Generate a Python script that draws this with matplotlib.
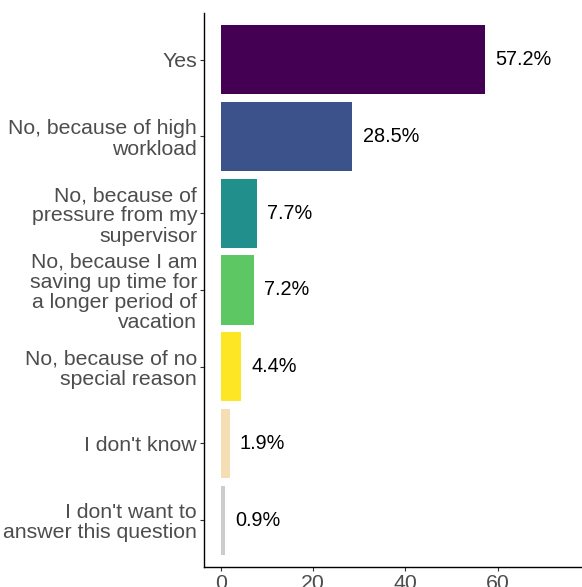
import matplotlib
matplotlib.use("Agg")
import matplotlib.pyplot as plt

plt.rcParams['font.family'] = ['Liberation Sans', 'DejaVu Sans']

# answers, top to bottom
answers = [
    "Yes",
    "No, because of high\nworkload",
    "No, because of\npressure from my\nsupervisor",
    "No, because I am\nsaving up time for\na longer period of\nvacation",
    "No, because of no\nspecial reason",
    "I don't know",
    "I don't want to\nanswer this question",
]
shares = [57.2, 28.5, 7.7, 7.2, 4.4, 1.9, 0.9]
bar_colors = ["#440154", "#3B528B", "#21908C", "#5DC863", "#FDE725", "#F5DEB3", "#CCCCCC"]
x_ticks = [0, 20, 40, 60]

fig = plt.figure(figsize=(5.82, 5.87), dpi=100)
ax = fig.add_axes([0.3505, 0.034, 0.6495, 0.944])

pos = list(range(len(answers)))[::-1]
ax.barh(pos, shares, height=0.9, color=bar_colors)
for p, v in zip(pos, shares):
    ax.text(v + 2.2, p, f"{v}%", ha='left', va='center', fontsize=14.3, color='black')

ax.set_yticks(pos)
ax.set_yticklabels(answers, fontsize=15.3, color='#4D4D4D', linespacing=1.08)
ax.set_xticks(x_ticks)
ax.set_xticklabels([str(t) for t in x_ticks], fontsize=15.3, color='#4D4D4D')
ax.set_xlim(-3.7, 78.3)
ax.set_ylim(-0.61, 6.61)

for s in ['top', 'right']:
    ax.spines[s].set_visible(False)
for s in ['left', 'bottom']:
    ax.spines[s].set_linewidth(1.0)
    ax.spines[s].set_color('black')
ax.tick_params(axis='both', length=3, width=0.8, color='#333333', pad=2)

fig.savefig("out.png", dpi=100)
